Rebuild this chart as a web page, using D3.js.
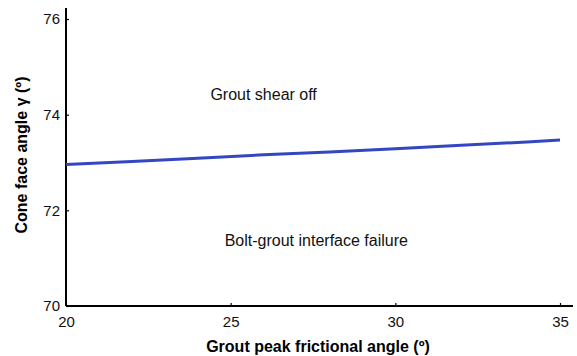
<!DOCTYPE html>
<html>
<head>
<meta charset="utf-8">
<script src="https://cdn.jsdelivr.net/npm/d3@7"></script>
<style>
  html, body { margin: 0; padding: 0; background: #fff; }
  svg { display: block; font-family: "Liberation Sans", Arial, sans-serif; }
</style>
</head>
<body>
<svg id="chart" width="577" height="356"></svg>
<script>
// Boundary between the two failure modes
const frictionAngle = [20, 22, 24, 26, 28, 30, 32, 34, 35];
const coneAngle = [72.96, 73.02, 73.09, 73.16, 73.22, 73.29, 73.36, 73.43, 73.47];
const xTicks = [20, 25, 30, 35];
const yTicks = [70, 72, 74, 76];
const regionLabels = ["Grout shear off", "Bolt-grout interface failure"];
const regionX = [26.0, 27.6];
const regionY = [74.3, 71.25];

const svg = d3.select("#chart");
const x = d3.scaleLinear().domain([20, 35]).range([66, 560]);
const y = d3.scaleLinear().domain([70, 76]).range([306, 19]);

// axes
const xAxis = svg.append("g").attr("transform", `translate(0,${y(70)})`)
  .call(d3.axisBottom(x).tickValues(xTicks).tickFormat(d3.format("d"))
    .tickSize(-3).tickPadding(10).tickSizeOuter(0));
xAxis.select(".domain").attr("d", `M${x(20)},0H573`);

const yAxis = svg.append("g").attr("transform", `translate(${x(20)},0)`)
  .call(d3.axisLeft(y).tickValues(yTicks).tickFormat(d3.format("d"))
    .tickSize(-3).tickPadding(9).tickSizeOuter(0));
yAxis.select(".domain").attr("d", `M0,${y(70)}V8`);

svg.selectAll(".domain").attr("stroke", "#000").attr("stroke-width", 2);
svg.selectAll(".tick line").attr("stroke", "#000").attr("stroke-width", 1.2);
svg.selectAll(".tick text").attr("font-size", 15).attr("fill", "#111")
  .attr("font-family", "Liberation Sans, Arial, sans-serif");
yAxis.selectAll(".tick text").attr("dx", "3");
xAxis.selectAll(".tick text").attr("dy", "0.71em");

// boundary line
svg.append("path")
  .datum(frictionAngle.map((d, i) => [d, coneAngle[i]]))
  .attr("fill", "none")
  .attr("stroke", "#3447c2")
  .attr("stroke-width", 3)
  .attr("d", d3.line().x(d => x(d[0])).y(d => y(d[1])));

// region labels
svg.selectAll(".region").data(regionLabels).enter().append("text")
  .attr("x", (d, i) => x(regionX[i]))
  .attr("y", (d, i) => y(regionY[i]))
  .attr("text-anchor", "middle")
  .attr("font-size", 16)
  .attr("fill", "#111")
  .text(d => d);

// axis titles
svg.append("text")
  .attr("x", 318).attr("y", 352)
  .attr("text-anchor", "middle")
  .attr("font-size", 16).attr("font-weight", "bold")
  .text("Grout peak frictional angle (º)");

svg.append("text")
  .attr("transform", "translate(27,155) rotate(-90)")
  .attr("text-anchor", "middle")
  .attr("font-size", 16).attr("font-weight", "bold")
  .text("Cone face angle γ (º)");
</script>
</body>
</html>
